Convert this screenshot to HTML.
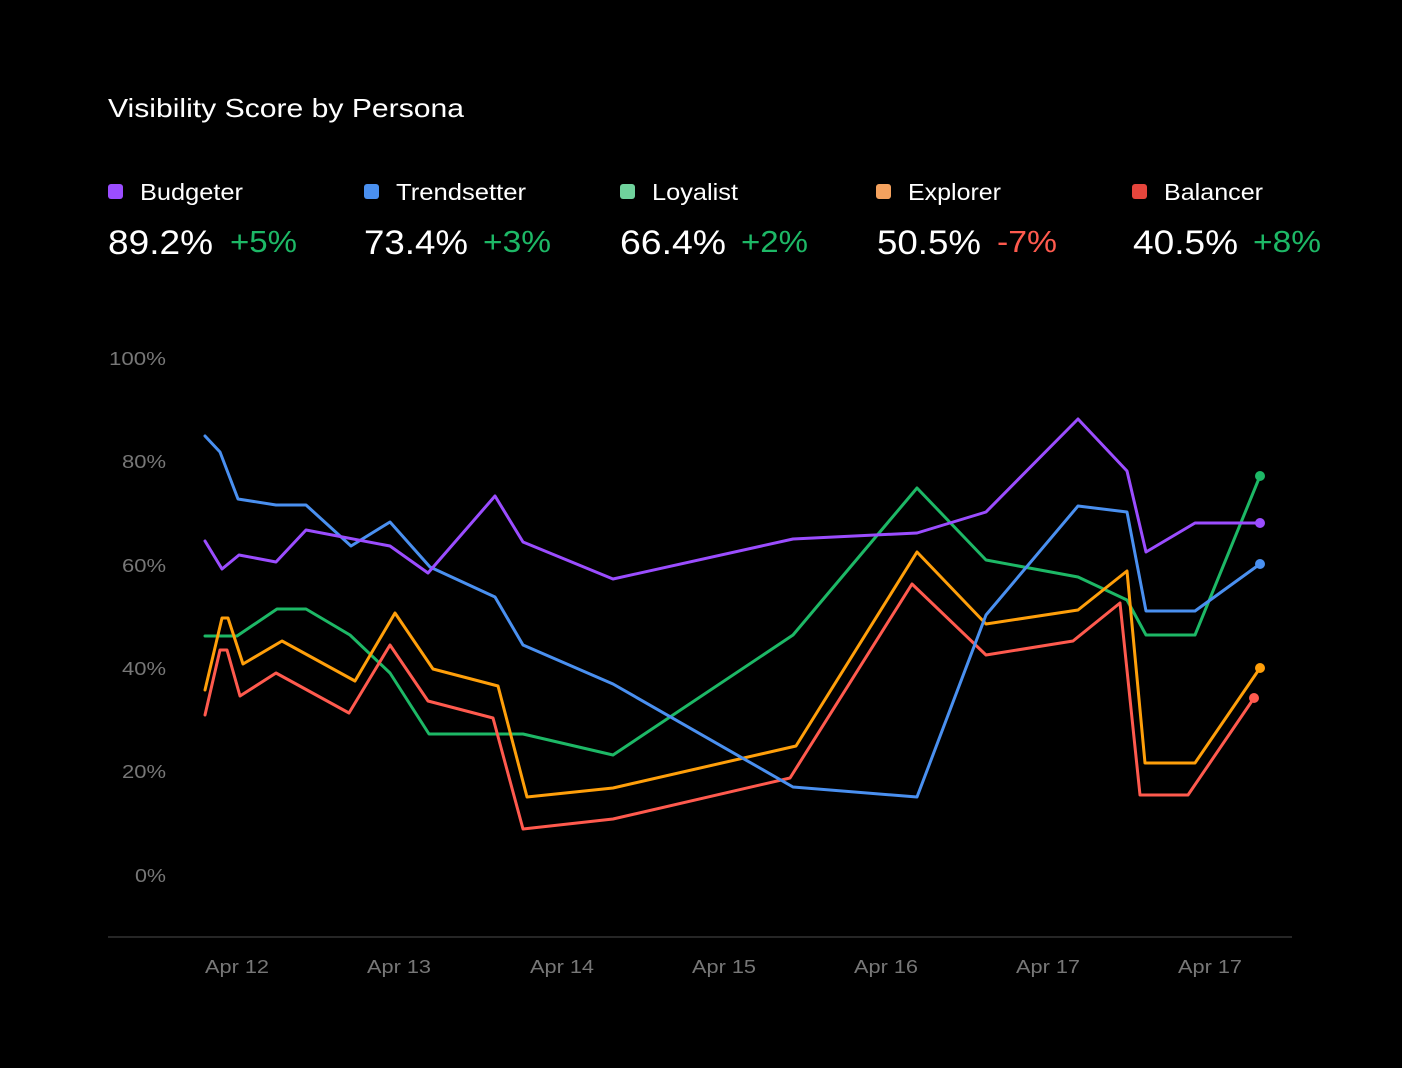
<!DOCTYPE html>
<html><head><meta charset="utf-8"><style>
body{margin:0;background:#000;width:1402px;height:1068px;overflow:hidden;font-family:"Liberation Sans",sans-serif;color:#fff}
svg{position:absolute;left:0;top:0}
</style></head><body>
<svg width="1402" height="1068" viewBox="0 0 1402 1068">
<text x="108" y="117" font-size="26" fill="#fff" textLength="356" lengthAdjust="spacingAndGlyphs">Visibility Score by Persona</text>
<g font-size="23" fill="#fff">
<rect x="108" y="184" width="15" height="15" rx="3" fill="#9b4dff"/><text x="140" y="200" textLength="103" lengthAdjust="spacingAndGlyphs">Budgeter</text>
<rect x="364" y="184" width="15" height="15" rx="3" fill="#4a90f0"/><text x="396" y="200" textLength="130" lengthAdjust="spacingAndGlyphs">Trendsetter</text>
<rect x="620" y="184" width="15" height="15" rx="3" fill="#6fd29c"/><text x="652" y="200" textLength="86" lengthAdjust="spacingAndGlyphs">Loyalist</text>
<rect x="876" y="184" width="15" height="15" rx="3" fill="#f5a25e"/><text x="908" y="200" textLength="93" lengthAdjust="spacingAndGlyphs">Explorer</text>
<rect x="1132" y="184" width="15" height="15" rx="3" fill="#e5453c"/><text x="1164" y="200" textLength="99" lengthAdjust="spacingAndGlyphs">Balancer</text>
</g>
<g font-size="34">
<text x="108" y="254" fill="#fff" textLength="105" lengthAdjust="spacingAndGlyphs">89.2%</text><text x="230" y="252" fill="#1db866" font-size="31" textLength="67" lengthAdjust="spacingAndGlyphs">+5%</text>
<text x="364" y="254" fill="#fff" textLength="104" lengthAdjust="spacingAndGlyphs">73.4%</text><text x="483" y="252" fill="#1db866" font-size="31" textLength="68" lengthAdjust="spacingAndGlyphs">+3%</text>
<text x="620" y="254" fill="#fff" textLength="106" lengthAdjust="spacingAndGlyphs">66.4%</text><text x="741" y="252" fill="#1db866" font-size="31" textLength="67" lengthAdjust="spacingAndGlyphs">+2%</text>
<text x="877" y="254" fill="#fff" textLength="104" lengthAdjust="spacingAndGlyphs">50.5%</text><text x="997" y="252" fill="#ff5a4e" font-size="31" textLength="60" lengthAdjust="spacingAndGlyphs">-7%</text>
<text x="1133" y="254" fill="#fff" textLength="105" lengthAdjust="spacingAndGlyphs">40.5%</text><text x="1253" y="252" fill="#1db866" font-size="31" textLength="68" lengthAdjust="spacingAndGlyphs">+8%</text>
</g>
<g font-size="18" fill="#777" text-anchor="end">
<text x="166" y="365" textLength="57" lengthAdjust="spacingAndGlyphs">100%</text><text x="166" y="468" textLength="44" lengthAdjust="spacingAndGlyphs">80%</text><text x="166" y="572" textLength="44" lengthAdjust="spacingAndGlyphs">60%</text>
<text x="166" y="675" textLength="44" lengthAdjust="spacingAndGlyphs">40%</text><text x="166" y="778" textLength="44" lengthAdjust="spacingAndGlyphs">20%</text><text x="166" y="882" textLength="31" lengthAdjust="spacingAndGlyphs">0%</text>
</g>
<line x1="108" y1="937" x2="1292" y2="937" stroke="#333" stroke-width="1.5"/>
<g font-size="18" fill="#777" text-anchor="middle">
<text x="237" y="973" textLength="64" lengthAdjust="spacingAndGlyphs">Apr 12</text><text x="399" y="973" textLength="64" lengthAdjust="spacingAndGlyphs">Apr 13</text><text x="562" y="973" textLength="64" lengthAdjust="spacingAndGlyphs">Apr 14</text>
<text x="724" y="973" textLength="64" lengthAdjust="spacingAndGlyphs">Apr 15</text><text x="886" y="973" textLength="64" lengthAdjust="spacingAndGlyphs">Apr 16</text><text x="1048" y="973" textLength="64" lengthAdjust="spacingAndGlyphs">Apr 17</text><text x="1210" y="973" textLength="64" lengthAdjust="spacingAndGlyphs">Apr 17</text>
</g>
<g fill="none" stroke-width="3" stroke-linejoin="round" stroke-linecap="round">
<polyline stroke="#1db866" points="205,636 237,636 277,609 306,609 350,635 390,673 429,734 523,734 613,755 793,635 917,488 986,560 1078,577 1127,600 1146,635 1195,635 1260,476"/>
<polyline stroke="#ff9f0a" points="205,690 222,618 228,618 243,664 282,641 355,681 395,613 433,669 498,686 527,797 613,788 796,746 917,552 986,624 1078,610 1127,571 1145,763 1195,763 1260,668"/>
<polyline stroke="#ff5a4e" points="205,715 220,650 227,650 240,696 276,673 349,713 390,645 428,701 493,718 523,829 613,819 790,778 912,584 986,655 1073,641 1120,603 1140,795 1188,795 1254,698"/>
<polyline stroke="#4a90f0" points="205,436 220,452 238,499 276,505 306,505 351,546 390,522 430,567 495,597 523,645 613,684 793,787 917,797 986,615 1078,506 1127,512 1146,611 1195,611 1260,564"/>
<polyline stroke="#9b4dff" points="205,541 222,569 239,555 276,562 306,530 390,546 428,573 495,496 523,542 613,579 793,539 917,533 986,512 1078,419 1127,471 1146,552 1195,523 1260,523"/>
</g>
<circle cx="1260" cy="476" r="5" fill="#1db866"/>
<circle cx="1260" cy="668" r="5" fill="#ff9f0a"/>
<circle cx="1254" cy="698" r="5" fill="#ff5a4e"/>
<circle cx="1260" cy="564" r="5" fill="#4a90f0"/>
<circle cx="1260" cy="523" r="5" fill="#9b4dff"/>
</svg>
</body></html>
